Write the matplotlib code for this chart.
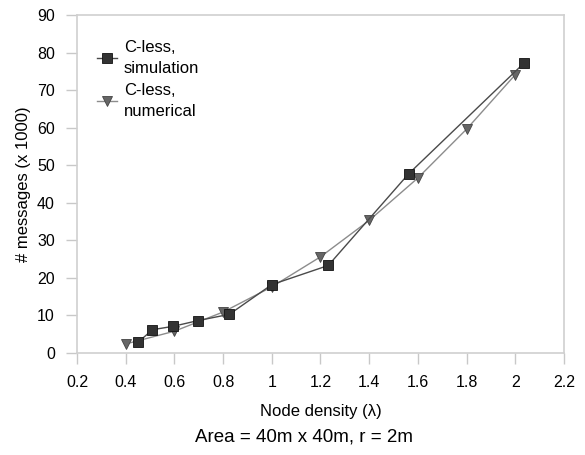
import matplotlib
matplotlib.use("Agg")
import matplotlib.pyplot as plt

plt.rcParams['font.family'] = ['Liberation Sans', 'DejaVu Sans']

# C-less, simulation
sim_x = [0.45, 0.51, 0.595, 0.695, 0.826, 1.0, 1.232, 1.562, 2.036]
sim_y = [2.8, 6.2, 7.1, 8.6, 10.3, 18.2, 23.3, 47.7, 77.2]
# C-less, numerical
num_x = [0.4, 0.6, 0.8, 1.0, 1.2, 1.4, 1.6, 1.8, 2.0]
num_y = [2.4, 5.8, 10.9, 17.6, 25.6, 35.3, 46.6, 59.6, 74.1]

xticks = [0.2, 0.4, 0.6, 0.8, 1, 1.2, 1.4, 1.6, 1.8, 2, 2.2]
yticks = [0, 10, 20, 30, 40, 50, 60, 70, 80, 90]

fig = plt.figure(figsize=(5.85, 4.55), dpi=100)
ax = fig.add_axes([0.1316, 0.2242, 0.8324, 0.7428])

ax.plot(sim_x, sim_y, color='#4a4a4a', lw=1.0, marker='s', markersize=7,
        markerfacecolor='#333333', markeredgecolor='#111111', markeredgewidth=0.6,
        label='C-less,\nsimulation', zorder=3)
ax.plot(num_x, num_y, color='#8c8c8c', lw=1.0, marker='v', markersize=7,
        markerfacecolor='#666666', markeredgecolor='#444444', markeredgewidth=0.6,
        label='C-less,\nnumerical', zorder=2)

ax.set_xlim(0.2, 2.2)
ax.set_ylim(0, 90)
ax.set_xticks(xticks)
ax.set_xticklabels([str(t) for t in xticks])
ax.set_yticks(yticks)

for s in ax.spines.values():
    s.set_color('#d0d0d0')
    s.set_linewidth(1.2)
ax.tick_params(axis='both', direction='out', length=8, width=1.0, color='#c8c8c8',
               labelsize=11.5, pad=8)

ax.set_ylabel('# messages (x 1000)', fontsize=12, labelpad=4)
ax.set_xlabel('Node density (\u03bb)', fontsize=12, labelpad=10)
fig.text(0.52, 0.04, 'Area = 40m x 40m, r = 2m', ha='center', va='center', fontsize=13.5)

leg = ax.legend(loc='upper left', frameon=False, fontsize=12, handlelength=1.2,
                handletextpad=0.4, borderaxespad=0.8, labelspacing=0.4,
                bbox_to_anchor=(0.0, 0.985))
for t in leg.get_texts():
    t.set_linespacing(1.5)

fig.savefig('out.png', dpi=100)
